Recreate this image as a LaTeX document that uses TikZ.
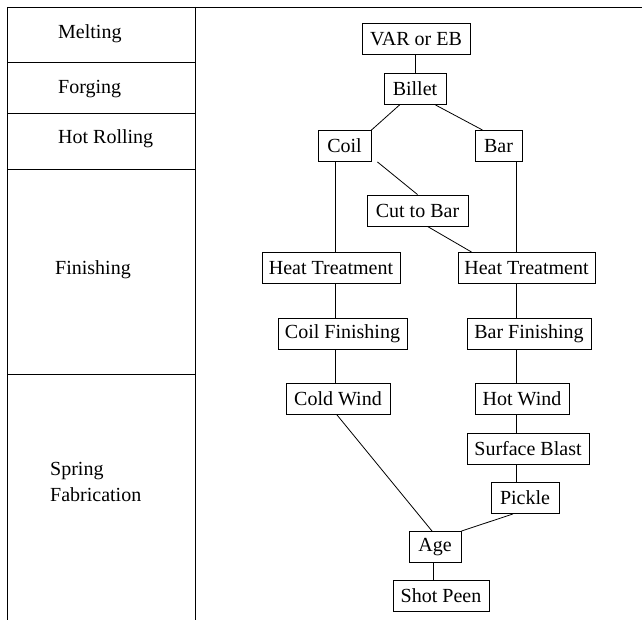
\documentclass[tikz,border=0pt]{standalone}
\usepackage{fontspec}
\setmainfont{Liberation Serif}
\usetikzlibrary{positioning}
\tikzset{
  stepbox/.style={draw, line width=0.9pt, minimum height=31pt, inner xsep=4pt, inner ysep=2pt, font=\fontsize{20}{24}\selectfont},
  stage/.style={anchor=west, inner sep=0pt, font=\fontsize{20}{26}\selectfont, align=left},
  link/.style={line width=0.8pt},
}

\begin{document}
\begin{tikzpicture}[x=1pt, y=-1pt]
    \useasboundingbox (0,0) rectangle (642,620);
    % stage table on the left
    \draw[link] (7,7) -- (642,7);
    \draw[link] (7,7) -- (7,620);
    \draw[link] (195,7) -- (195,620);
    \draw[link] (7,62) -- (195,62);
    \draw[link] (7,113) -- (195,113);
    \draw[link] (7,169) -- (195,169);
    \draw[link] (7,374) -- (195,374);
    \node[stage] (melt) at (58,34) {Melting};
    \node[stage] (forge) at (58,89) {Forging};
    \node[stage] (roll) at (58,139) {Hot Rolling};
    \node[stage] (finish) at (55,270) {Finishing};
    \node[stage] (fab) at (50,482) {Spring\\Fabrication};
    % process boxes
    \node[stepbox, minimum width=108pt] (var) at (416,39) {VAR or EB};
    \node[stepbox, minimum width=62pt] (billet) at (415,89) {Billet};
    \node[stepbox, minimum width=53pt] (coil) at (344.5,146) {Coil};
    \node[stepbox, minimum width=47pt] (bar) at (498.5,146) {Bar};
    \node[stepbox, minimum width=101pt] (cut) at (417.5,210.5) {Cut to Bar};
    \node[stepbox, minimum width=138pt] (htl) at (331,268) {Heat Treatment};
    \node[stepbox, minimum width=137pt] (htr) at (526.5,268) {Heat Treatment};
    \node[stepbox, minimum width=129pt] (cfin) at (342.5,334) {Coil Finishing};
    \node[stepbox, minimum width=124pt] (bfin) at (529,334) {Bar Finishing};
    \node[stepbox, minimum width=104pt] (cold) at (338,399) {Cold Wind};
    \node[stepbox, minimum width=94pt] (hot) at (522,399) {Hot Wind};
    \node[stepbox, minimum width=122pt] (blast) at (528,449) {Surface Blast};
    \node[stepbox, minimum width=68pt] (pickle) at (525,498) {Pickle};
    \node[stepbox, minimum width=52pt] (age) at (435,547) {Age};
    \node[stepbox, minimum width=96pt] (shot) at (441,596) {Shot Peen};
    \coordinate (lx) at (335,0);
    \coordinate (rx) at (516,0);
    \coordinate (ax) at (433,0);
    % connectors
    \draw[link] (var.south -| billet) -- (billet);
    \draw[link] ([xshift=16pt]billet.south west) -- (coil.north east);
    \draw[link] ([xshift=-11pt]billet.south east) -- ([xshift=8pt]bar.north west);
    \draw[link] ([xshift=6pt]coil.south east) -- (cut.north);
    \draw[link] ([xshift=10pt]cut.south) -- ([xshift=14pt]htr.north west);
    \draw[link] (coil.south -| lx) -- (htl.north -| lx);
    \draw[link] (htl.south -| lx) -- (cfin.north -| lx);
    \draw[link] (cfin.south -| lx) -- (cold.north -| lx);
    \draw[link] (bar.south -| rx) -- (htr.north -| rx);
    \draw[link] (htr.south -| rx) -- (bfin.north -| rx);
    \draw[link] (bfin.south -| rx) -- (hot.north -| rx);
    \draw[link] (hot.south -| rx) -- (blast.north -| rx);
    \draw[link] (blast.south -| rx) -- (pickle.north -| rx);
    \draw[link] ([xshift=-1pt]cold.south) -- ([xshift=-3pt]age.north);
    \draw[link] ([xshift=-12pt]pickle.south) -- (age.north east);
    \draw[link] (age.south -| ax) -- (shot.north -| ax);
\end{tikzpicture}
\end{document}
